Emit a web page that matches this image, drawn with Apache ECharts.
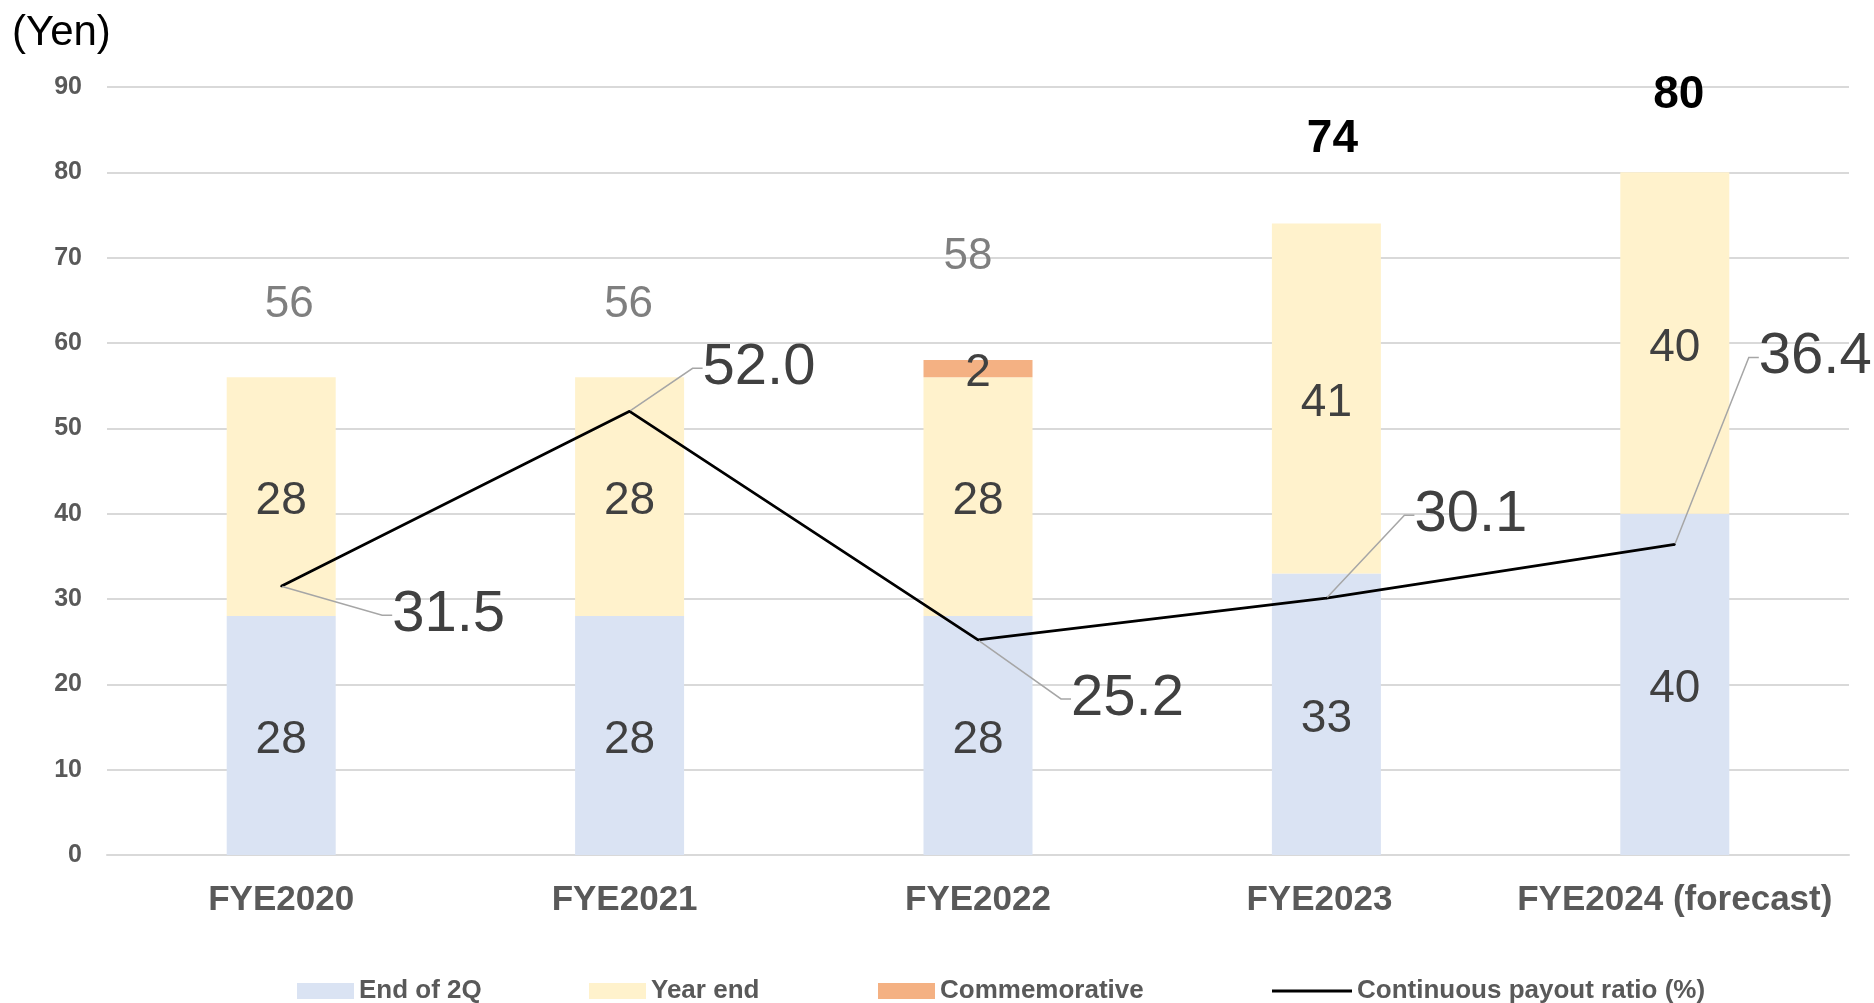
<!DOCTYPE html>
<html>
<head>
<meta charset="utf-8">
<script src="https://cdn.jsdelivr.net/npm/echarts@6/dist/echarts.min.js"></script>
<style>
  html, body { margin: 0; padding: 0; background: #fff; }
  #main { width: 1874px; height: 1003px; }
</style>
</head>
<body>
<div id="main"></div>
<script>
// 年度
const categories = ['FYE2020', 'FYE2021', 'FYE2022', 'FYE2023', 'FYE2024 (forecast)'];

// 配当（円）
const end2Q = [28, 28, 28, 33, 40];
const yearEnd = [28, 28, 28, 41, 40];
const commemorative = [null, null, 2, null, null];
const totals = [56, 56, 58, 74, 80];

// 連結配当性向（%）
const payoutRatio = [31.5, 52.0, 25.2, 30.1, 36.4];

const seriesNames = ['End of 2Q', 'Year end', 'Commemorative', 'Continuous payout ratio (%)'];

// ---- styles / label placement ----
const FONT = "'Liberation Sans', Arial, sans-serif";
const colors = ['#dae3f3', '#fff2cc', '#f4b183', '#000000'];
const categoryPadRight = [0, 10, 0, 14, 0];
const totalShift = [[8, -50], [-1, -50], [-10, -81], [6, -61], [4, -54]];
const totalStyle = [
    { color: '#7f7f7f', fontWeight: 'normal', fontSize: 44 },
    { color: '#7f7f7f', fontWeight: 'normal', fontSize: 44 },
    { color: '#7f7f7f', fontWeight: 'normal', fontSize: 44 },
    { color: '#000000', fontWeight: 'bold', fontSize: 46 },
    { color: '#000000', fontWeight: 'bold', fontSize: 46 }
];
const ratioShift = [[110, 29], [72, -43], [92, 59], [87, -83], [83, -187]];
const legendLeft = [297, 589, 878, 1272];

const barLabel = {
    show: true,
    position: 'inside',
    offset: [0, 5],
    fontFamily: FONT,
    fontSize: 46,
    color: '#404040'
};

const makeBar = (name, data, color) => ({
    name,
    type: 'bar',
    stack: 'dividend',
    barWidth: 109,
    itemStyle: { color },
    label: barLabel,
    data
});

const legends = seriesNames.map((name, i) => ({
    data: [name],
    left: legendLeft[i],
    top: 978,
    padding: 0,
    icon: 'rect',
    itemWidth: i === 3 ? 80 : 57,
    itemHeight: i === 3 ? 3 : 16,
    itemGap: 8,
    selectedMode: false,
    textStyle: { fontFamily: FONT, fontSize: 26, fontWeight: 'bold', color: '#595959' }
}));

const chart = echarts.init(document.getElementById('main'));

chart.setOption({
    animation: false,
    backgroundColor: '#ffffff',
    title: {
        text: '(Yen)',
        left: 12,
        top: 12,
        padding: 0,
        textStyle: { fontFamily: FONT, fontSize: 42, fontWeight: 'normal', color: '#000' }
    },
    legend: legends,
    grid: { left: 107, right: 25, top: 87, bottom: 148 },
    xAxis: {
        type: 'category',
        data: categories.map((c, i) => ({
            value: c,
            textStyle: { padding: [0, categoryPadRight[i], 0, 0] }
        })),
        axisTick: { show: false },
        axisLine: { lineStyle: { color: '#d9d9d9', width: 2 } },
        axisLabel: {
            interval: 0,
            margin: 28,
            fontFamily: FONT,
            fontSize: 35,
            fontWeight: 'bold',
            color: '#595959'
        }
    },
    yAxis: {
        type: 'value',
        min: 0,
        max: 90,
        interval: 10,
        axisLine: { show: false },
        axisTick: { show: false },
        splitLine: { lineStyle: { color: '#d9d9d9', width: 2 } },
        axisLabel: {
            margin: 25,
            fontFamily: FONT,
            fontSize: 25,
            fontWeight: 'bold',
            color: '#595959'
        }
    },
    series: [
        makeBar(seriesNames[0], end2Q, colors[0]),
        makeBar(seriesNames[1], yearEnd, colors[1]),
        makeBar(seriesNames[2], commemorative, colors[2]),
        {
            name: seriesNames[3],
            type: 'line',
            z: 5,
            color: colors[3],
            symbol: 'circle',
            symbolSize: 2,
            itemStyle: { color: '#000' },
            lineStyle: { color: '#000', width: 2.7 },
            label: {
                show: true,
                position: 'right',
                distance: 0,
                fontFamily: FONT,
                fontSize: 58,
                color: '#404040',
                formatter: (p) => p.value.toFixed(1)
            },
            labelLine: {
                show: true,
                length2: 10,
                lineStyle: { color: '#a6a6a6', width: 1.5 }
            },
            labelLayout: (p) => ({ dx: ratioShift[p.dataIndex][0], dy: ratioShift[p.dataIndex][1] }),
            data: payoutRatio
        },
        {
            name: 'Total',
            type: 'scatter',
            symbolSize: 1,
            itemStyle: { color: 'rgba(0,0,0,0)', opacity: 1 },
            silent: true,
            data: totals.map((v, i) => ({
                value: v,
                label: {
                    show: true,
                    position: 'top',
                    distance: 0,
                    offset: totalShift[i],
                    fontFamily: FONT,
                    ...totalStyle[i]
                }
            }))
        }
    ]
});
</script>
</body>
</html>
